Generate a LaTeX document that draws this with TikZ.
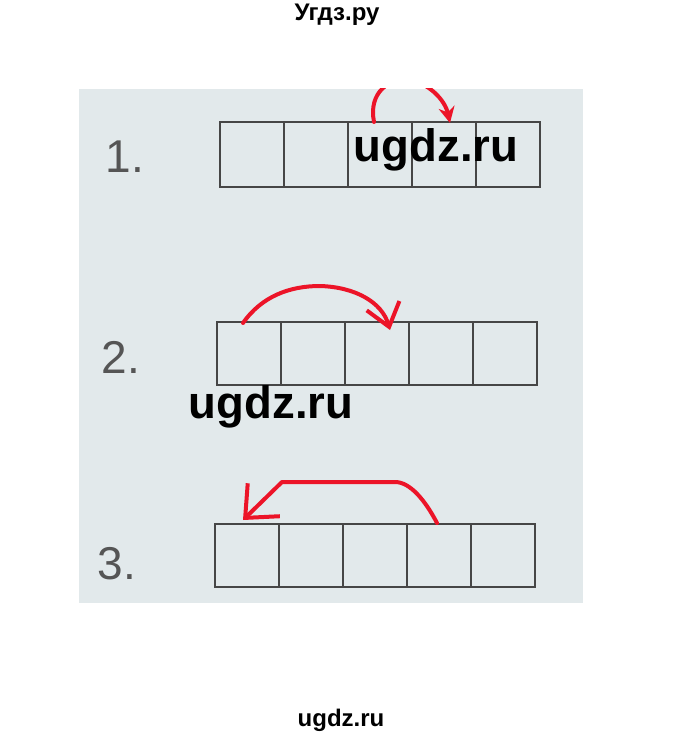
\documentclass[tikz,border=0pt]{standalone}
\usepackage{fontspec}
\setmainfont{Liberation Sans}
\usetikzlibrary{arrows.meta}
\definecolor{panel}{RGB}{226,233,235}
\definecolor{arrowred}{RGB}{236,20,40}
\definecolor{boxline}{RGB}{70,70,70}
\definecolor{numgray}{RGB}{85,85,85}
\tikzset{
  cell/.style={draw=boxline,line width=1.6pt,rectangle,minimum width=64pt,inner sep=0pt,outer sep=0pt},
  rownum/.style={text=numgray,font=\fontsize{46}{46}\selectfont,anchor=base},
  wm/.style={font=\fontsize{45.5}{46}\selectfont\bfseries,anchor=base,text=black},
  wmsmall/.style={font=\fontsize{24}{24}\selectfont\bfseries,anchor=base,text=black},
  redarrow/.style={draw=arrowred,line width=4pt,line cap=round,line join=round}
}
\begin{document}
\begin{tikzpicture}[x=1pt,y=-1pt]
\useasboundingbox (0,0) rectangle (680,738);
\fill[white] (0,0) rectangle (680,738);
\fill[panel] (79,89) rectangle (583,603);
% row 1
\foreach \i in {1,...,5} {
  \node[cell,minimum height=65pt] (a\i) at ({220+32+64*(\i-1)},154.5) {};
}
% row 2
\foreach \i in {1,...,5} {
  \node[cell,minimum height=63pt] (b\i) at ({217+32+64*(\i-1)},353.5) {};
}
% row 3
\foreach \i in {1,...,5} {
  \node[cell,minimum height=63pt] (c\i) at ({215+32+64*(\i-1)},555.5) {};
}
\node[rownum] (n1) at (125,172) {1.};
\node[rownum] (n2) at (121,373) {2.};
\node[rownum] (n3) at (117,579) {3.};
% arrows
\begin{scope}
\clip (79,89) rectangle (583,603);
\coordinate (s1) at (374,122);
\coordinate (e1) at (450,123);
\draw[redarrow,-{Stealth[length=16pt,width=16pt]}] (s1) .. controls (368,92) and (390,78) .. (408,80) .. controls (428,82) and (445,100) .. (e1);
\end{scope}
\coordinate (s2) at (243,323);
\coordinate (e2) at (390,330);
\draw[redarrow,-{Straight Barb[length=22pt,width=34pt]}] (s2) .. controls (262,296) and (290,286) .. (320,286) .. controls (355,287) and (382,302) .. (e2);
\coordinate (s3) at (437,523);
\coordinate (m3a) at (395,482);
\coordinate (m3b) at (282,482);
\coordinate (e3) at (243,520);
\draw[redarrow,-{Straight Barb[length=26pt,width=46pt]}] (s3) .. controls (425,500) and (410,482) .. (m3a) -- (m3b) -- (e3);
% watermarks
\node[wm] (w1) at (436,162) {ugdz.ru};
\node[wm] (w2) at (271,418) {ugdz.ru};
\node[wmsmall] (wt) at (337,21) {Угдз.ру};
\node[wmsmall] (wb) at (341,726) {ugdz.ru};
\end{tikzpicture}
\end{document}
